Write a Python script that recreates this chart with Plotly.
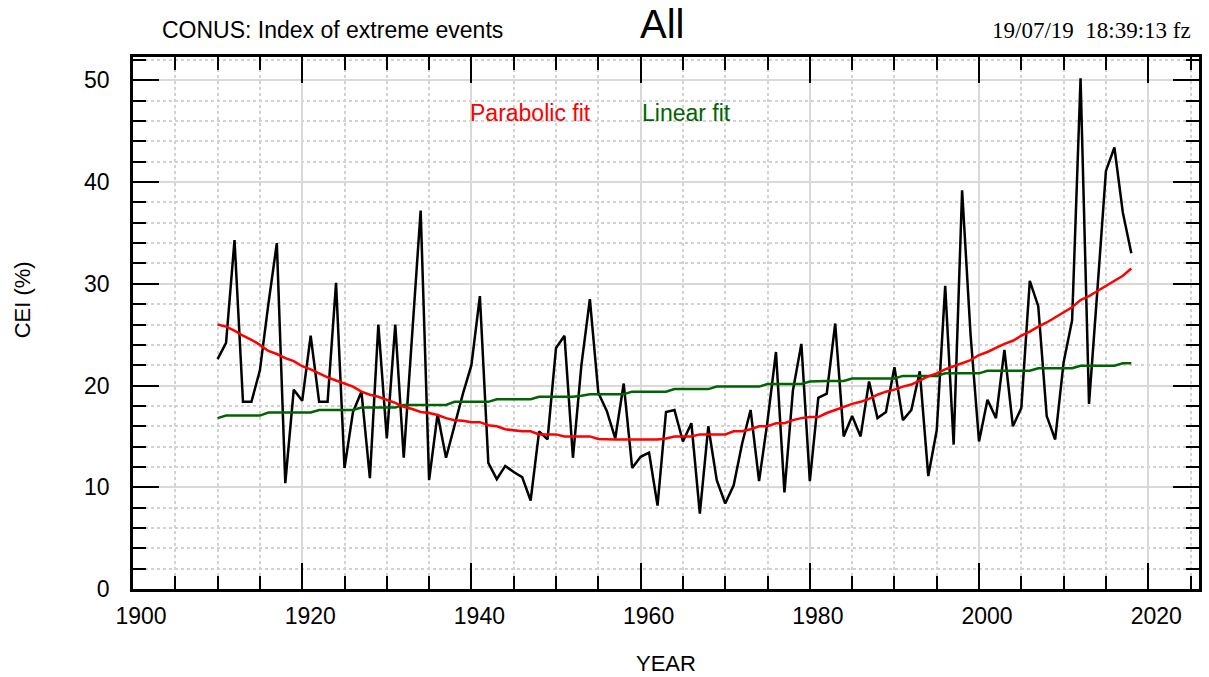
import plotly.graph_objects as go

years = list(range(1910, 2019))

cei = [22.6, 24.2, 34.3, 18.4, 18.4, 21.5, 28.0, 34.0, 10.4, 19.6,
       18.5, 24.9, 18.4, 18.4, 30.1, 11.9, 17.4, 19.4, 10.9, 26.0,
       14.8, 26.0, 12.9, 25.0, 37.2, 10.7, 17.2, 12.9, 16.1, 19.2,
       22.0, 28.8, 12.4, 10.8, 12.1, 11.5, 11.0, 8.7, 15.5, 14.7,
       23.7, 24.9, 12.9, 22.0, 28.5, 19.3, 17.5, 14.8, 20.2, 11.9,
       13.0, 13.4, 8.2, 17.4, 17.6, 14.5, 16.3, 7.4, 16.0, 10.7,
       8.4, 10.2, 14.3, 17.6, 10.6, 16.5, 23.3, 9.5, 19.5, 24.1,
       10.6, 18.8, 19.2, 26.1, 15.0, 17.0, 15.0, 20.4, 16.8, 17.4,
       21.8, 16.6, 17.6, 21.4, 11.1, 15.6, 29.8, 14.2, 39.2, 25.0,
       14.5, 18.6, 16.8, 23.5, 16.0, 17.8, 30.3, 27.8, 17.0, 14.7,
       22.3, 26.4, 50.2, 18.2, 29.5, 41.1, 43.4, 37.0, 33.0]

parabolic = [26.0, 25.8, 25.4, 24.9, 24.5, 24.0, 23.4, 23.1, 22.7, 22.4,
             21.9, 21.6, 21.2, 20.8, 20.5, 20.2, 19.9, 19.4, 19.1, 18.9,
             18.6, 18.3, 17.9, 17.7, 17.4, 17.3, 17.1, 16.8, 16.6, 16.55,
             16.4, 16.4, 16.1, 16.0, 15.7, 15.6, 15.5, 15.5, 15.2, 15.2,
             15.2, 15.0, 15.0, 15.0, 15.0, 14.75, 14.7, 14.7, 14.7, 14.7,
             14.7, 14.7, 14.7, 14.8, 15.0, 15.0, 15.0, 15.2, 15.2, 15.2,
             15.2, 15.5, 15.5, 15.7, 16.0, 16.0, 16.3, 16.3, 16.6, 16.8,
             16.9, 16.9, 17.3, 17.6, 17.9, 18.2, 18.4, 18.7, 19.1, 19.4,
             19.6, 19.9, 20.1, 20.5, 20.9, 21.2, 21.6, 21.9, 22.2, 22.5,
             23.0, 23.3, 23.7, 24.1, 24.4, 24.9, 25.3, 25.8, 26.2, 26.7,
             27.2, 27.7, 28.4, 28.8, 29.3, 29.8, 30.3, 30.8, 31.5]

linear = [16.8, 17.05, 17.05, 17.05, 17.05, 17.05, 17.35, 17.35, 17.35, 17.35,
          17.35, 17.35, 17.6, 17.6, 17.6, 17.6, 17.6, 17.85, 17.85, 17.85,
          17.85, 17.85, 18.1, 18.1, 18.1, 18.1, 18.1, 18.1, 18.4, 18.4,
          18.4, 18.4, 18.4, 18.65, 18.65, 18.65, 18.65, 18.65, 18.9, 18.9,
          18.9, 18.9, 18.9, 19.0, 19.15, 19.15, 19.15, 19.15, 19.15, 19.4,
          19.4, 19.4, 19.4, 19.4, 19.65, 19.65, 19.65, 19.65, 19.65, 19.9,
          19.9, 19.9, 19.9, 19.9, 19.9, 20.15, 20.15, 20.15, 20.15, 20.15,
          20.4, 20.45, 20.45, 20.45, 20.45, 20.7, 20.7, 20.7, 20.7, 20.7,
          20.7, 20.95, 20.95, 20.95, 20.95, 20.95, 21.2, 21.2, 21.2, 21.2,
          21.2, 21.45, 21.45, 21.45, 21.45, 21.45, 21.45, 21.7, 21.7, 21.7,
          21.7, 21.7, 21.95, 21.95, 21.95, 21.95, 21.95, 22.2, 22.2]

x_ticks = [1900, 1920, 1940, 1960, 1980, 2000, 2020]
y_ticks = [0, 10, 20, 30, 40, 50]

W, H = 1209, 677
L, R, T, B = 133, 1202, 57, 589

def px(x):
    return (x - L) / (R - L)

def py(y):
    return (B - y) / (B - T)

fig = go.Figure()
fig.add_trace(go.Scatter(x=years, y=cei, mode="lines",
                         line=dict(color="black", width=2.5), showlegend=False))
fig.add_trace(go.Scatter(x=years, y=linear, mode="lines",
                         line=dict(color="#006400", width=2.5), showlegend=False))
fig.add_trace(go.Scatter(x=years, y=parabolic, mode="lines",
                         line=dict(color="#ff0000", width=2.5), showlegend=False))

font = "Arial, Liberation Sans, sans-serif"
axis_common = dict(
    showline=True, linecolor="black", linewidth=2.5, mirror="allticks",
    ticks="inside", ticklen=26, tickwidth=2, tickcolor="black",
    showgrid=True, gridcolor="#d9d9d9", gridwidth=2,
    zeroline=False,
    tickfont=dict(family=font, size=23, color="black"),
)

fig.update_xaxes(range=[1900, 2026], tickvals=x_ticks,
                 minor=dict(dtick=5, tick0=1900, ticks="inside", ticklen=13, tickwidth=2,
                            tickcolor="black", showgrid=True, gridcolor="#d2d2d2",
                            griddash="dot", gridwidth=1.5),
                 ticklabelstandoff=5, ticklabelshift=8,
                 **axis_common)
fig.update_yaxes(range=[0, 52.3], tickvals=y_ticks,
                 minor=dict(dtick=2, tick0=0, ticks="inside", ticklen=13, tickwidth=2,
                            tickcolor="black", showgrid=True, gridcolor="#d2d2d2",
                            griddash="dot", gridwidth=1.5),
                 ticklabelstandoff=16,
                 **axis_common)

ann = []
ann.append(dict(text="CONUS: Index of extreme events", x=px(160), y=py(30),
                xanchor="left", yanchor="middle",
                font=dict(family=font, size=23, color="black")))
ann.append(dict(text="All", x=px(663), y=py(24), xanchor="center", yanchor="middle",
                font=dict(family=font, size=40, color="black")))
ann.append(dict(text="19/07/19  18:39:13 fz", x=px(1196), y=py(30),
                xanchor="right", yanchor="middle",
                font=dict(family="Liberation Serif, Times New Roman, serif", size=23, color="black")))
ann.append(dict(text="Parabolic fit", x=px(469), y=py(113), xanchor="left", yanchor="middle",
                font=dict(family=font, size=23, color="#ff0000")))
ann.append(dict(text="Linear fit", x=px(641), y=py(113), xanchor="left", yanchor="middle",
                font=dict(family=font, size=23, color="#006400")))
ann.append(dict(text="CEI (%)", x=px(22), y=py(300), xanchor="center", yanchor="middle",
                textangle=-90, font=dict(family=font, size=22, color="black")))
ann.append(dict(text="YEAR", x=px(668), y=py(663), xanchor="center", yanchor="middle",
                font=dict(family=font, size=22, color="black")))
for a in ann:
    a.update(xref="paper", yref="paper", showarrow=False)

fig.update_layout(
    width=W, height=H,
    margin=dict(l=L, r=W - R, t=T, b=H - B, pad=0),
    paper_bgcolor="white", plot_bgcolor="white",
    annotations=ann,
    showlegend=False,
)

fig.write_html("out.html", config={"displayModeBar": False},
               post_script="document.body.style.margin='0';document.body.style.overflow='hidden';")
